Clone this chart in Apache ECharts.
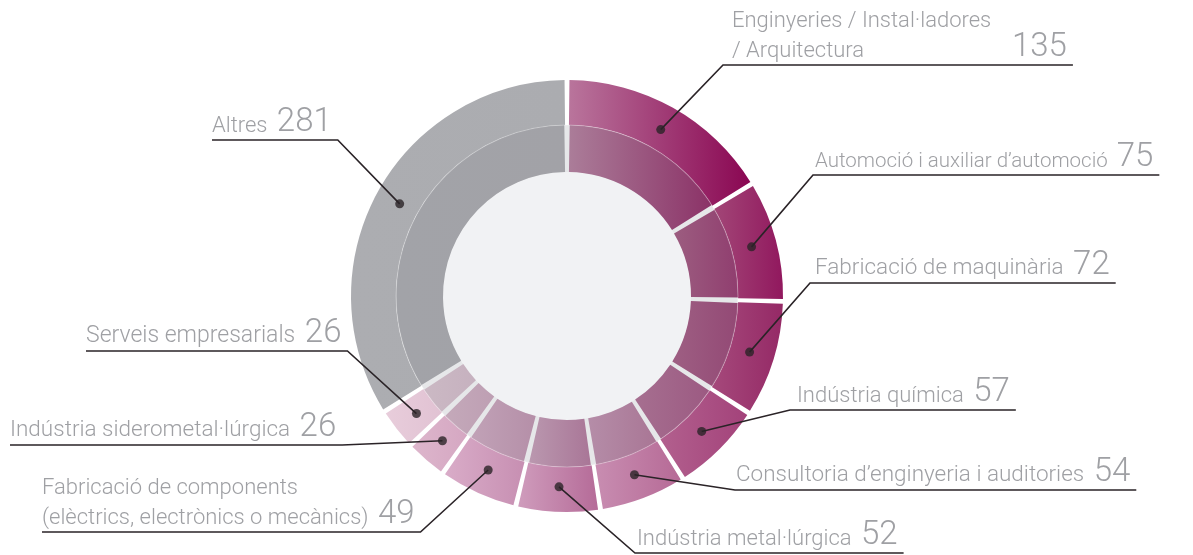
<!DOCTYPE html>
<html>
<head>
<meta charset="utf-8">
<script src="https://cdn.jsdelivr.net/npm/echarts@6/dist/echarts.min.js"></script>
<style>
  html, body { margin: 0; padding: 0; background: #fff; }
  #chart { width: 1193px; height: 555px; }
</style>
</head>
<body>
<div id="chart"></div>
<script>
// dades
const sectors = [
  'Enginyeries / Instal·ladores\n/ Arquitectura',
  'Automoció i auxiliar d’automoció',
  'Fabricació de maquinària',
  'Indústria química',
  'Consultoria d’enginyeria i auditories',
  'Indústria metal·lúrgica',
  'Fabricació de components\n(elèctrics, electrònics o mecànics)',
  'Indústria siderometal·lúrgica',
  'Serveis empresarials',
  'Altres'
];
const values = [135, 75, 72, 57, 54, 52, 49, 26, 26, 281];

// colors del degradat (esquerra -> dreta) per a l'anell exterior
const colorsLeft  = ['#b9759c', '#a24677', '#a5497b', '#b2608e', '#c88db1', '#cf9cbc', '#d9acc8', '#ddb6cc', '#e8cddb', '#acadb1'];
const colorsRight = ['#8a0652', '#91185e', '#952966', '#a3427a', '#b66a96', '#b56b98', '#c78fb2', '#d5a7c2', '#e1c2d3', '#abacb0'];

// posició de les etiquetes: [x del text, y del subratllat, x del colze]
const labelPos = [
  [732, 65, 723],
  [815, 175, 813],
  [815, 283, 810],
  [797, 410, 790],
  [736, 490, 735],
  [637, 553, 635],
  [42, 532, null],
  [10, 445, null],
  [86, 351, null],
  [212, 140, null]
];
const lastLineWidth = [276, null, null, null, null, null, null, null, null, null];
const nameSizes = [22, 20.5, 22.5, 22, 22.5, 22, 22, 22.5, 23, 22];

const CX = 567, CY = 296;
const R_HOLE = 124, R_MID = 171, R_OUT = 216, DOT_R = 191;
const FONT = "Roboto, 'DejaVu Sans Condensed', sans-serif";
const TEXT = '#9fa0a4';
const INK = '#2a2327';

const total = values.reduce((a, b) => a + b, 0);
const cum = [];
values.reduce((acc, v, i) => { cum[i] = acc; return acc + v; }, 0);

function hex(c) {
  return [1, 3, 5].map(k => parseInt(c.slice(k, k + 2), 16));
}
function mix(c1, c2, t) {
  const a = hex(c1), b = hex(c2);
  return 'rgb(' + a.map((v, k) => Math.round(v + (b[k] - v) * t)).join(',') + ')';
}
function grad(l, r) {
  return new echarts.graphic.LinearGradient(0, 0, 1, 0, [
    { offset: 0, color: l },
    { offset: 1, color: r }
  ]);
}

// estils de text per etiqueta (mida del nom variable)
const rich = {
  v: { fontFamily: FONT, fontWeight: 300, fontSize: 33, color: TEXT, lineHeight: 30, verticalAlign: 'bottom', padding: [0, 0, -2, 4] }
};
nameSizes.forEach((s, i) => {
  rich['n' + i] = { fontFamily: FONT, fontWeight: 300, fontSize: s, color: TEXT, lineHeight: 30, verticalAlign: 'bottom' };
  rich['w' + i] = { fontFamily: FONT, fontWeight: 300, fontSize: s, color: TEXT, lineHeight: 30, verticalAlign: 'bottom', width: lastLineWidth[i] || undefined };
});

const outerData = values.map((v, i) => ({
  value: v, name: sectors[i],
  itemStyle: { color: grad(colorsLeft[i], colorsRight[i]) }
}));
const innerData = values.map((v, i) => ({
  value: v, name: sectors[i],
  itemStyle: { color: grad(mix(colorsLeft[i], '#8e8e94', 0.32), mix(colorsRight[i], '#8e8e94', 0.32)) }
}));
const labelData = values.map((v, i) => ({ value: v, name: sectors[i] }));
const dots = values.map((v, i) => [DOT_R, cum[i] + v / 2]);

const myChart = echarts.init(document.getElementById('chart'));

const option = {
  backgroundColor: '#fff',
  animation: false,
  polar: { center: [CX, CY], radius: R_OUT },
  angleAxis: { type: 'value', min: 0, max: total, startAngle: 90, clockwise: true, show: false },
  radiusAxis: { type: 'value', min: 0, max: R_OUT, show: false },
  series: [
    {
      type: 'pie', silent: true, center: [CX, CY], radius: [0, R_HOLE],
      label: { show: false }, labelLine: { show: false }, z: 1,
      data: [{ value: 1, itemStyle: { color: '#f1f2f4' } }]
    },
    {
      type: 'pie', silent: true, center: [CX, CY], radius: [R_HOLE, R_MID],
      label: { show: false }, labelLine: { show: false }, z: 1,
      data: [{ value: 1, itemStyle: { color: '#e6e7e9' } }]
    },
    {
      type: 'pie', silent: true, center: [CX, CY], radius: [R_HOLE, R_MID],
      startAngle: 90, clockwise: true, padAngle: 1.8,
      label: { show: false }, labelLine: { show: false }, z: 2,
      data: innerData
    },
    {
      type: 'pie', silent: true, center: [CX, CY], radius: [R_MID, R_OUT],
      startAngle: 90, clockwise: true, padAngle: 1.3,
      label: { show: false }, labelLine: { show: false }, z: 3,
      data: outerData
    },
    {
      // línia fina entre els dos anells
      type: 'pie', silent: true, center: [CX, CY], radius: [R_MID - 0.5, R_MID + 0.5],
      label: { show: false }, labelLine: { show: false }, z: 4,
      data: [{ value: 1, itemStyle: { color: 'rgba(255,255,255,0.3)' } }]
    },
    {
      // capa transparent només per a les etiquetes i les línies guia
      type: 'pie', silent: true, center: [CX, CY], radius: [R_MID, R_OUT],
      startAngle: 90, clockwise: true,
      avoidLabelOverlap: false, z: 5,
      itemStyle: { color: 'rgba(0,0,0,0)' },
      data: labelData,
      label: {
        show: true,
        position: 'outside',
        formatter: function (p) {
          const i = p.dataIndex;
          const lines = sectors[i].split('\n');
          const last = lines.length - 1;
          return lines.map((l, k) => {
            if (k < last) return '{n' + i + '|' + l + '}';
            return (lastLineWidth[i] ? '{w' + i + '|' + l + '}' : '{n' + i + '|' + l + ' }') + '{v|' + values[i] + '}';
          }).join('\n');
        },
        rich: rich
      },
      labelLine: { show: true, showAbove: true, lineStyle: { color: INK, width: 1.6, opacity: 1 } },
      labelLayout: function (params) {
        const i = params.dataIndex;
        const p = labelPos[i];
        const w = params.labelRect.width;
        // el punt d'inici de la línia es porta cap a dins de l'anell
        const p0 = params.labelLinePoints[0];
        const ddx = p0[0] - CX, ddy = p0[1] - CY;
        const len = Math.sqrt(ddx * ddx + ddy * ddy);
        const start = [CX + ddx / len * DOT_R, CY + ddy / len * DOT_R];
        let pts;
        if (p[2] !== null) {
          pts = [start, [p[2], p[1]], [p[0] + w + 6, p[1]]];
        } else {
          pts = [start, [p[0] + w + 6, p[1]], [p[0], p[1]]];
        }
        return { x: p[0], y: p[1] - 3, align: 'left', verticalAlign: 'bottom', labelLinePoints: pts };
      }
    },
    {
      type: 'scatter', coordinateSystem: 'polar', silent: true, z: 6,
      symbolSize: 9,
      itemStyle: { color: INK },
      data: dots
    }
  ]
};

myChart.setOption(option);
window.addEventListener('resize', () => { myChart.resize(); });
</script>
</body>
</html>
